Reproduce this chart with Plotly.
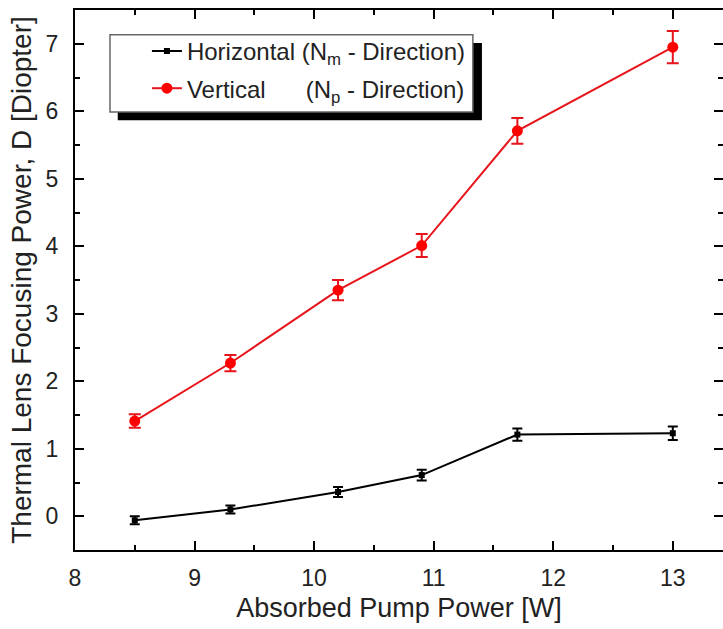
import plotly.graph_objects as go

# Data
pump_power = [8.5, 9.3, 10.2, 10.9, 11.7, 13.0]
horizontal_D = [-0.06, 0.10, 0.36, 0.61, 1.21, 1.23]
horizontal_err = [0.06, 0.06, 0.075, 0.08, 0.09, 0.10]
vertical_D = [1.41, 2.27, 3.35, 4.01, 5.71, 6.95]
vertical_err = [0.10, 0.12, 0.15, 0.17, 0.19, 0.24]

legend_h = "Horizontal (N<sub>m</sub> - Direction)"
legend_v = "Vertical\u00a0\u00a0\u00a0\u00a0\u00a0\u00a0(N<sub>p</sub> - Direction)"

FONT = "Liberation Sans, Arial, sans-serif"
TXT = "#222222"

fig = go.Figure()
fig.add_trace(go.Scatter(
    x=pump_power, y=horizontal_D, name=legend_h, mode="lines+markers",
    line=dict(color="black", width=2),
    marker=dict(symbol="square", size=6, color="black"),
    error_y=dict(type="data", array=horizontal_err, color="black", thickness=2, width=5),
    legendgroup="h",
))
fig.add_trace(go.Scatter(
    x=pump_power, y=vertical_D, name=legend_v, mode="lines+markers",
    line=dict(color="#e8141b", width=2),
    marker=dict(symbol="circle", size=11, color="#ff0000"),
    error_y=dict(type="data", array=vertical_err, color="#e8141b", thickness=2, width=6),
    legendgroup="v",
))

# legend box with drop shadow
fig.add_shape(type="rect", xref="paper", yref="paper", x0=0.066, x1=0.628, y0=0.796, y1=0.939,
              fillcolor="black", line=dict(width=0), layer="above")
fig.add_shape(type="rect", xref="paper", yref="paper", x0=0.054, x1=0.614, y0=0.811, y1=0.954,
              fillcolor="white", line=dict(color="#666666", width=1.5), layer="above")

axis_common = dict(
    showline=True, linecolor="black", linewidth=2, mirror="ticks",
    ticks="inside", ticklen=9, tickwidth=2, tickcolor="black",
    showgrid=False, zeroline=False,
    tickfont=dict(family=FONT, size=23, color=TXT),
)

fig.update_layout(
    width=723, height=629,
    margin=dict(l=75, r=0, t=10, b=79, autoexpand=False),
    paper_bgcolor="white", plot_bgcolor="white",
    showlegend=True,
    legend=dict(
        x=0.111, y=0.965, xanchor="left", yanchor="top",
        bgcolor="rgba(0,0,0,0)", borderwidth=0,
        font=dict(family=FONT, size=24, color=TXT),
        traceorder="grouped", tracegroupgap=3,
    ),
    xaxis=dict(
        range=[8, 13.42], tickvals=[8, 9, 10, 11, 12, 13],
        minor=dict(ticks="inside", ticklen=5, tickwidth=2, tickcolor="black", dtick=0.5),
        ticklabelstandoff=6,
        title=dict(text="Absorbed Pump Power [W]", standoff=9,
                   font=dict(family=FONT, size=27, color=TXT)),
        **axis_common,
    ),
    yaxis=dict(
        range=[-0.5, 7.5], tickvals=[0, 1, 2, 3, 4, 5, 6, 7],
        minor=dict(ticks="inside", ticklen=5, tickwidth=2, tickcolor="black", dtick=0.5),
        ticklabelstandoff=10,
        title=dict(text="Thermal Lens Focusing Power, D [Diopter]", standoff=6,
                   font=dict(family=FONT, size=28, color=TXT)),
        **axis_common,
    ),
)

fig.write_html(
    "out.html",
    config={"displayModeBar": False},
    post_script="document.body.style.margin='0';document.body.style.overflow='hidden';",
)
